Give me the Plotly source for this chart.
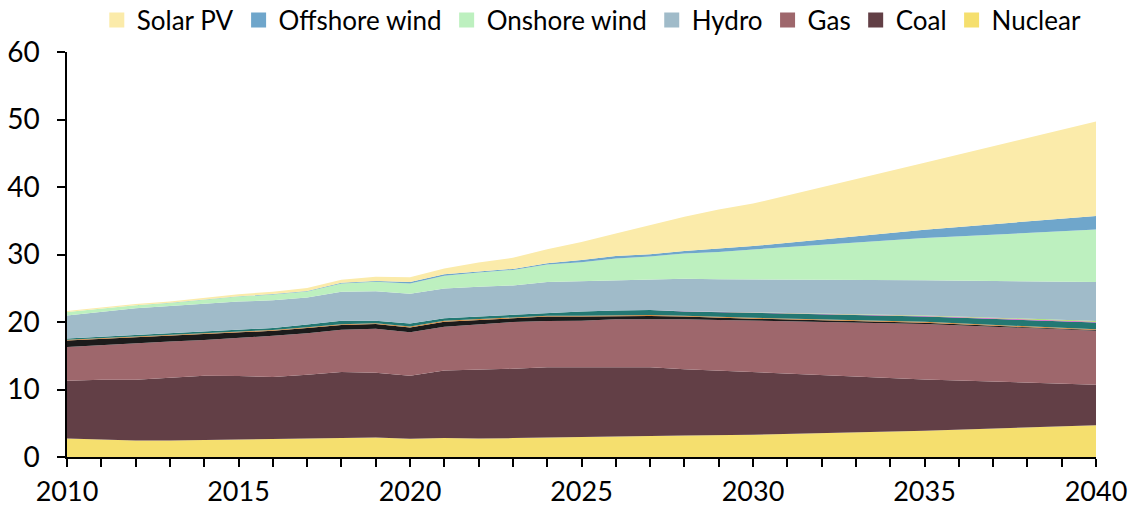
import plotly.graph_objects as go

years = list(range(2010, 2031)) + [2035, 2040]

nuclear = [2.75, 2.6, 2.45, 2.45, 2.5, 2.65, 2.7, 2.72, 2.8, 2.88, 2.72, 2.83, 2.75,
           2.8, 2.85, 2.95, 3.05, 3.1, 3.18, 3.22, 3.3, 3.9, 4.7]
coal = [8.55, 8.85, 9.0, 9.25, 9.55, 9.35, 9.15, 9.48, 9.8, 9.62, 9.33, 9.97, 10.15,
        10.27, 10.45, 10.35, 10.35, 10.2, 9.82, 9.58, 9.2, 7.6, 6.0]
gas = [5.0, 5.15, 5.45, 5.4, 5.3, 5.6, 6.1, 6.15, 6.25, 6.5, 6.45, 6.5, 6.8,
       6.93, 6.85, 6.9, 7.0, 7.15, 7.4, 7.5, 7.7, 8.2, 8.0]
oil = [0.95, 0.9, 0.85, 0.85, 0.85, 0.9, 0.75, 0.75, 0.7, 0.7, 0.7, 0.75, 0.6,
       0.6, 0.65, 0.6, 0.5, 0.45, 0.4, 0.4, 0.3, 0.2, 0.1]
bioenergy = [0.12] * 23
other_renew = [0.2, 0.2, 0.25, 0.3, 0.3, 0.3, 0.3, 0.4, 0.5, 0.35, 0.45, 0.4, 0.4,
               0.35, 0.5, 0.65, 0.7, 0.75, 0.65, 0.65, 0.75, 0.8, 1.0]
marine = [0, 0, 0, 0, 0, 0, 0, 0, 0, 0, 0, 0, 0,
          0, 0, 0, 0, 0, 0.02, 0.03, 0.04, 0.08, 0.12]
geothermal = [0, 0, 0, 0, 0, 0, 0, 0, 0, 0, 0, 0, 0,
              0, 0, 0, 0, 0, 0.02, 0.03, 0.04, 0.08, 0.12]
hydro = [3.4, 3.7, 3.9, 4.0, 4.1, 4.1, 4.1, 4.0, 4.3, 4.4, 4.4, 4.4, 4.4,
         4.35, 4.5, 4.5, 4.5, 4.6, 4.8, 4.8, 4.85, 5.2, 5.75]
onshore = [0.5, 0.5, 0.45, 0.45, 0.6, 0.75, 0.85, 0.9, 1.25, 1.4, 1.55, 1.9, 2.1,
           2.3, 2.6, 2.8, 3.2, 3.35, 3.75, 4.05, 4.45, 6.25, 7.8]
offshore = [0.02, 0.02, 0.03, 0.03, 0.04, 0.05, 0.06, 0.08, 0.1, 0.12, 0.2, 0.2, 0.15,
            0.15, 0.2, 0.3, 0.35, 0.3, 0.35, 0.45, 0.5, 1.25, 2.0]
solar = [0.13, 0.15, 0.15, 0.2, 0.22, 0.3, 0.35, 0.45, 0.45, 0.6, 0.7, 0.85, 1.35,
         1.65, 2.05, 2.7, 3.35, 4.3, 5.1, 5.85, 6.3, 9.9, 14.0]

# stacking order, bottom to top: (name, values, colour, shown in legend)
layers = [
    ("Nuclear", nuclear, "#f5df6e", True),
    ("Coal", coal, "#623f46", True),
    ("Gas", gas, "#9e676c", True),
    ("Oil", oil, "#1b1b1b", False),
    ("Bioenergy", bioenergy, "#d68a3c", False),
    ("Other renewables", other_renew, "#237873", False),
    ("Marine", marine, "#e055d0", False),
    ("Geothermal", geothermal, "#9ee84a", False),
    ("Hydro", hydro, "#a0bbc9", True),
    ("Onshore wind", onshore, "#bdf0bf", True),
    ("Offshore wind", offshore, "#6fa6cb", True),
    ("Solar PV", solar, "#fbebaa", True),
]

FONT = "Lato, Carlito, Calibri, sans-serif"

fig = go.Figure()
for name, vals, col, show in layers:
    fig.add_trace(go.Scatter(
        x=years, y=vals, name=name, mode="lines",
        stackgroup="one", line=dict(width=0, color=col),
        fillcolor=col, showlegend=False,
    ))

# square swatches for the legend
for name, vals, col, show in layers:
    if show:
        fig.add_trace(go.Scatter(
            x=[None], y=[None], name=name, mode="markers",
            marker=dict(symbol="square", size=15, color=col),
            showlegend=True, hoverinfo="skip",
        ))

fig.update_layout(
    width=1134, height=506,
    margin=dict(l=67, r=38, t=52, b=49, autoexpand=False),
    paper_bgcolor="white", plot_bgcolor="white",
    font=dict(family=FONT, size=28, color="#000000"),
    showlegend=True,
    legend=dict(
        orientation="h", traceorder="reversed",
        x=0.51, xanchor="center", y=1.079, yanchor="middle",
        font=dict(family=FONT, size=26), itemwidth=30,
        bgcolor="rgba(0,0,0,0)",
    ),
    xaxis=dict(
        range=[2010, 2040], tickmode="linear", tick0=2010, dtick=5,
        showgrid=False, zeroline=False, showline=True, linecolor="#000000",
        linewidth=1.5, ticks="outside", ticklen=8, tickcolor="#000000",
        tickwidth=1.5, ticklabelstandoff=2,
        tickfont=dict(family=FONT, size=27),
        minor=dict(ticks="outside", dtick=1, ticklen=8, tickcolor="#000000",
                   tickwidth=1.5, showgrid=False),
    ),
    yaxis=dict(
        range=[0, 60], tickmode="linear", tick0=0, dtick=10,
        showgrid=False, zeroline=False, showline=True, linecolor="#000000",
        linewidth=1.5, ticks="outside", ticklen=8, tickcolor="#000000",
        tickwidth=1.5, ticklabelstandoff=12,
    ),
)

fig.write_html("out.html")
